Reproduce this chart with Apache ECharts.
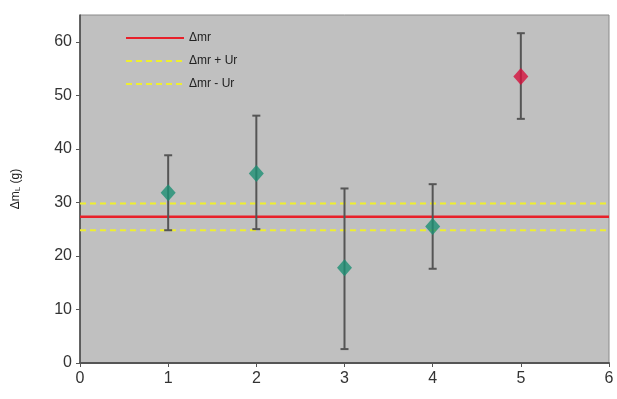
<!DOCTYPE html>
<html>
<head>
<meta charset="utf-8">
<script src="https://cdn.jsdelivr.net/npm/echarts@6/dist/echarts.min.js"></script>
<style>
  html, body { margin: 0; padding: 0; background: #fff; }
  #chart { width: 617px; height: 399px; }
</style>
</head>
<body>
<div id="chart"></div>
<script>
// lab index, measured value, error bar low / high
const labs = [1, 2, 3, 4, 5];
const values = [31.8, 35.4, 17.8, 25.5, 53.5];
const errLow = [24.8, 25.0, 2.6, 17.6, 45.6];
const errHigh = [38.8, 46.2, 32.6, 33.4, 61.6];
const outlier = [false, false, false, false, true];

const refMean = 27.3;
const refUr = 2.5;
const xRange = [0, 6];

const chart = echarts.init(document.getElementById('chart'));

const pointData = labs.map((x, i) => ({
  value: [x, values[i]],
  itemStyle: { color: outlier[i] ? '#d4103c' : '#1b8f73' },
}));
const errData = labs.map((x, i) => [x, errLow[i], errHigh[i]]);

const hLine = (v) => xRange.map((x) => [x, v]);

const options = {
  animation: false,
  textStyle: { fontFamily: 'Liberation Sans, Arial, sans-serif' },
  grid: {
    left: 80,
    right: 8,
    top: 15,
    bottom: 36,
    show: true,
    backgroundColor: '#c0c0c0',
    borderColor: '#8a8a8a',
    borderWidth: 1,
  },
  legend: {
    orient: 'vertical',
    left: 120,
    top: 27,
    itemWidth: 58,
    itemHeight: 14,
    itemGap: 11,
    itemStyle: { opacity: 0 },
    textStyle: { fontSize: 12, color: '#222' },
    data: ['Δmr', 'Δmr + Ur', 'Δmr - Ur'],
  },
  xAxis: {
    type: 'value',
    min: 0,
    max: 6,
    interval: 1,
    splitLine: { show: false },
    axisLine: { lineStyle: { color: '#555', width: 2 } },
    axisTick: { length: 4, lineStyle: { color: '#555' } },
    axisLabel: { fontSize: 16, color: '#333', margin: 8 },
  },
  yAxis: {
    type: 'value',
    min: 0,
    max: 65,
    interval: 10,
    name: '{a|Δm}{s|L}{a| (g)}',
    nameLocation: 'middle',
    nameGap: 58,
    nameTextStyle: {
      rich: {
        a: { fontSize: 12, color: '#222' },
        s: { fontSize: 8, color: '#222', verticalAlign: 'bottom', padding: [4, 0, 0, 0] },
      },
    },
    splitLine: { show: false },
    axisLine: { show: true, lineStyle: { color: '#444', width: 1.5 } },
    axisTick: { show: true, length: 4, lineStyle: { color: '#555' } },
    axisLabel: { fontSize: 16, color: '#333', margin: 8, showMaxLabel: false },
  },
  series: [
    {
      name: 'Δmr',
      type: 'line',
      data: hLine(refMean),
      showSymbol: false,
      symbol: 'none',
      color: '#e8202a',
      lineStyle: { color: '#e8202a', width: 2.5 },
      z: 2,
    },
    {
      name: 'Δmr + Ur',
      type: 'line',
      data: hLine(refMean + refUr),
      showSymbol: false,
      symbol: 'none',
      color: '#eeee30',
      lineStyle: { color: '#eeee30', width: 2, type: [6, 4] },
      z: 2,
    },
    {
      name: 'Δmr - Ur',
      type: 'line',
      data: hLine(refMean - refUr),
      showSymbol: false,
      symbol: 'none',
      color: '#eeee30',
      lineStyle: { color: '#eeee30', width: 2, type: [6, 4] },
      z: 2,
    },
    {
      type: 'custom',
      data: errData,
      z: 3,
      renderItem: (params, api) => {
        const x = api.value(0);
        const lo = api.coord([x, api.value(1)]);
        const hi = api.coord([x, api.value(2)]);
        const cap = 4;
        const style = { stroke: '#555', lineWidth: 2 };
        return {
          type: 'group',
          children: [
            { type: 'line', shape: { x1: lo[0], y1: lo[1], x2: hi[0], y2: hi[1] }, style },
            { type: 'line', shape: { x1: lo[0] - cap, y1: lo[1], x2: lo[0] + cap, y2: lo[1] }, style },
            { type: 'line', shape: { x1: hi[0] - cap, y1: hi[1], x2: hi[0] + cap, y2: hi[1] }, style },
          ],
        };
      },
    },
    {
      type: 'scatter',
      data: pointData,
      symbol: 'diamond',
      symbolSize: [15, 17],
      z: 4,
    },
  ],
};

chart.setOption(options);
</script>
</body>
</html>
